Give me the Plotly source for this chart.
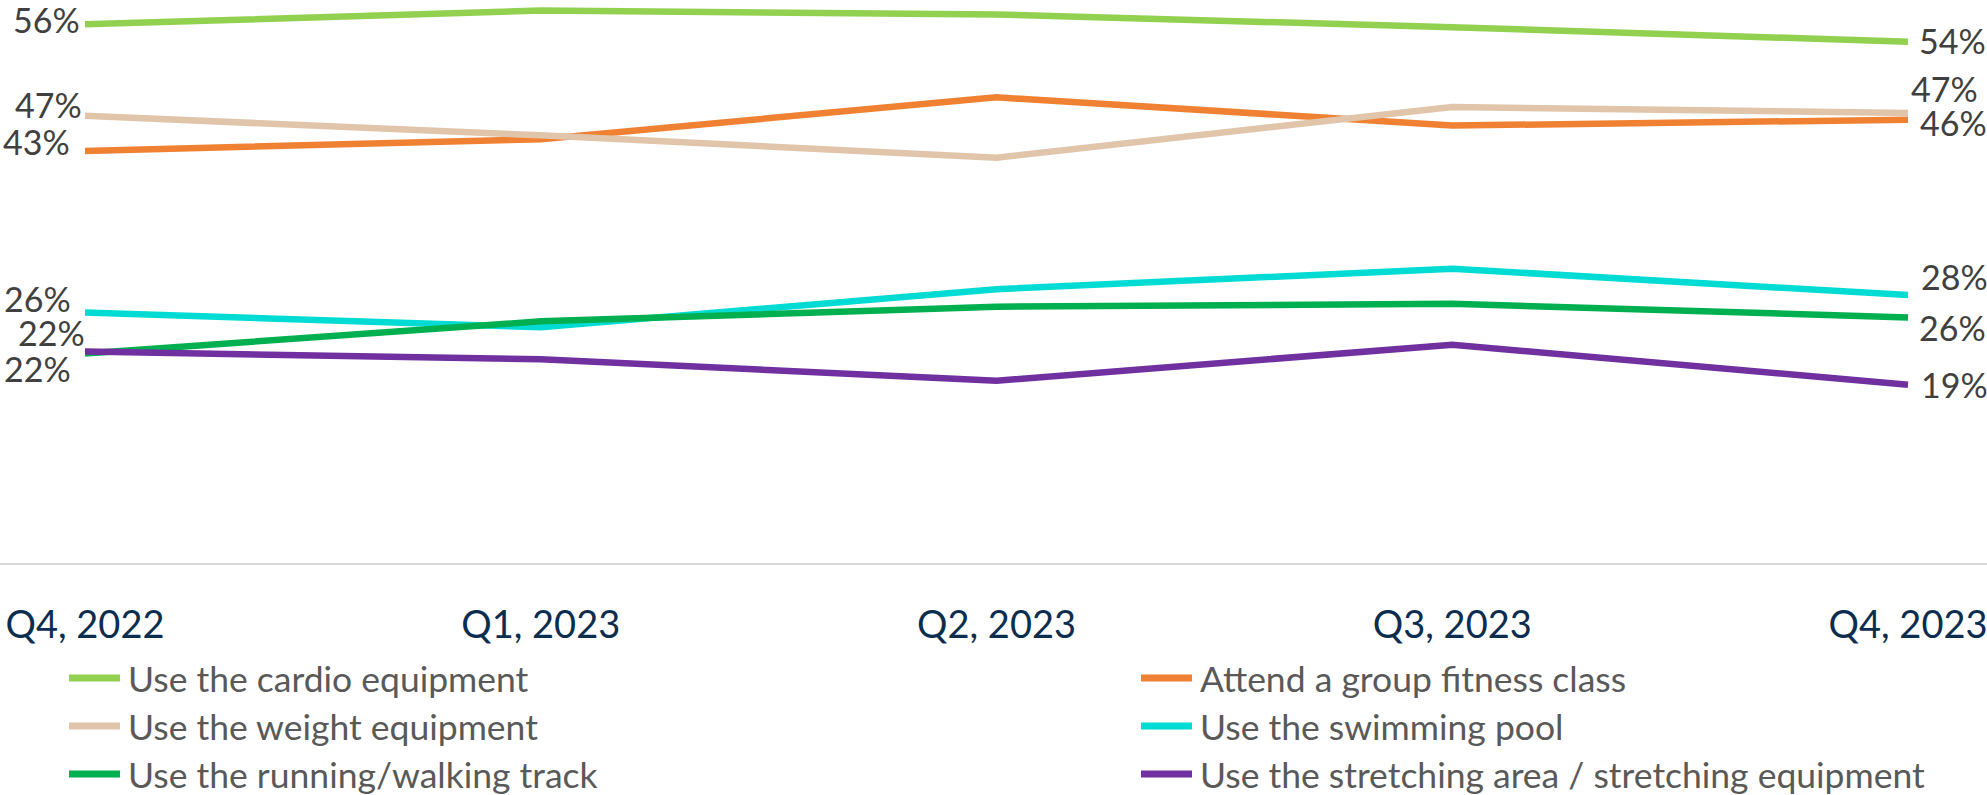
import plotly.graph_objects as go

quarters = ["Q4, 2022", "Q1, 2023", "Q2, 2023", "Q3, 2023", "Q4, 2023"]

cardio = [56.0, 57.4, 57.0, 55.7, 54.2]
group_class = [43.0, 44.2, 48.5, 45.6, 46.2]
weights = [46.6, 44.6, 42.3, 47.5, 46.9]
pool = [26.4, 24.9, 28.8, 30.9, 28.2]
track = [22.2, 25.5, 27.0, 27.3, 25.9]
stretching = [22.4, 21.6, 19.4, 23.1, 19.0]

names = [
    "Use the cardio equipment",
    "Attend a group fitness class",
    "Use the weight equipment",
    "Use the swimming pool",
    "Use the running/walking track",
    "Use the stretching area / stretching equipment",
]
series = [cardio, group_class, weights, pool, track, stretching]
colors = ["#92D050", "#F08133", "#E0C5AB", "#00DCD4", "#00B050", "#7030A0"]

# label offsets (px): (left xshift, left yshift, right xshift, right yshift)
label_offsets = [
    (-3, 5, 9, 1),
    (-13, 9, 10, -3),
    (-1, 11, 1, 24),
    (-12, 14, 11, 19),
    (2, 21, 9, -10),
    (-12, -17, 11, 0),
]

FONT = "Lato"
x = list(range(len(quarters)))

fig = go.Figure()
for name, vals, col in zip(names, series, colors):
    fig.add_trace(go.Scatter(
        x=x, y=vals, mode="lines", name=name,
        line=dict(color=col, width=6.5),
        showlegend=False, hoverinfo="skip",
    ))

annotations = []
for vals, (lx, ly, rx, ry) in zip(series, label_offsets):
    annotations.append(dict(
        x=x[0], y=vals[0], xref="x", yref="y", text=f"{round(vals[0])}%",
        showarrow=False, xanchor="right", yanchor="middle",
        xshift=lx, yshift=ly, font=dict(family=FONT, size=34, color="#404040"),
    ))
    annotations.append(dict(
        x=x[-1], y=vals[-1], xref="x", yref="y", text=f"{round(vals[-1])}%",
        showarrow=False, xanchor="left", yanchor="middle",
        xshift=rx, yshift=ry, font=dict(family=FONT, size=34, color="#404040"),
    ))

# custom two-column legend (pixel layout converted to plot-area paper coords)
W, H = 1987, 795
B = 232
plot_h = H - B
col_x = [66, 1138]
row_y = [678, 726, 774]
shapes = []
for i, (name, col) in enumerate(zip(names, colors)):
    cx = col_x[i % 2]
    ry = row_y[i // 2]
    yp = 1 - ry / plot_h
    shapes.append(dict(
        type="line", xref="paper", yref="paper",
        x0=(cx + 3) / W, x1=(cx + 54) / W, y0=yp, y1=yp,
        line=dict(color=col, width=7),
    ))
    annotations.append(dict(
        x=(cx + 60) / W, y=yp, xref="paper", yref="paper", text=name,
        showarrow=False, xanchor="left", yanchor="middle",
        font=dict(family=FONT, size=35.5, color="#595959"),
    ))

fig.update_layout(
    width=W, height=H,
    margin=dict(l=0, r=0, t=0, b=B, pad=0),
    paper_bgcolor="white", plot_bgcolor="white",
    annotations=annotations,
    shapes=shapes,
    xaxis=dict(
        range=[-0.1865, 4.1733], tickmode="array", tickvals=x, ticktext=quarters,
        showgrid=False, zeroline=False, showline=True, linecolor="#D9D9D9", linewidth=2,
        ticks="", tickfont=dict(family=FONT, size=38, color="#0B2D4F"),
        ticklabelstandoff=27, ticklabeloverflow="allow",
    ),
    yaxis=dict(range=[0.69, 58.49], visible=False, showgrid=False, zeroline=False),
)

fig.write_html("out.html")
